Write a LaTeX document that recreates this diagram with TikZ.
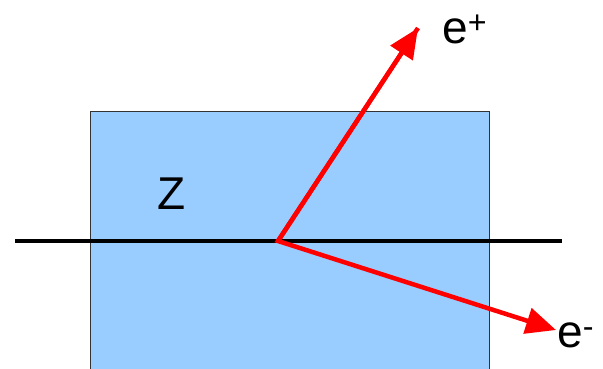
\documentclass[tikz,border=0pt]{standalone}
\usepackage{fontspec}
\setmainfont{Liberation Sans}
\usetikzlibrary{arrows.meta}
\definecolor{boxblue}{HTML}{99CCFF}
\definecolor{arrred}{HTML}{FF0000}
\begin{document}
\begin{tikzpicture}[x=1pt,y=-1pt,
  lbl/.style={font=\fontsize{46}{50}\selectfont, inner sep=0pt},
  particle/.style={draw=arrred, line width=4.5pt, -{Triangle[length=30pt,width=26pt]}}]
\useasboundingbox (0,0) rectangle (603,368);
\fill[white] (0,0) rectangle (603,368);
\draw[fill=boxblue, draw=black!80, line width=1pt] (90,111) rectangle (489,380);
\draw[line width=4pt] (15,241) -- (562,241);
\coordinate (v) at (278,241);
\coordinate (ep) at (418,28);
\coordinate (em) at (556,330);
\draw[particle, line join=miter] (ep) -- (v) -- (em);
\draw[particle] (v) -- (ep);
\node[lbl] (z) at (172,194) {Z};
\node[lbl, anchor=base west] (eplus) at (442,43) {e\textsuperscript{+}};
\node[lbl, anchor=base west] (eminus) at (557,347) {e\textsuperscript{-}};
\end{tikzpicture}
\end{document}
